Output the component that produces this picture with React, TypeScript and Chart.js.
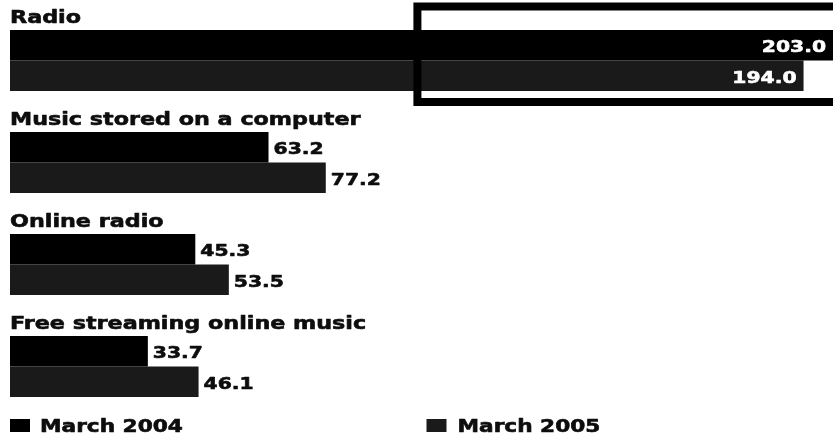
import { useEffect, useRef } from "react";
import { Chart, registerables } from "chart.js";

Chart.register(...registerables);

const categories = [
  "Radio",
  "Music stored on a computer",
  "Online radio",
  "Free streaming online music",
];
const seriesNames = ["March 2004", "March 2005"];
const march2004 = [203.0, 63.2, 45.3, 33.7];
const march2005 = [194.0, 77.2, 53.5, 46.1];
const seriesColors = ["#000000", "#1a1a1a"];
const axisMax = 201.2;
const highlightFrom = 99.6;

const FONT = '"DejaVu Sans", Verdana, sans-serif';
const STRETCH = 1.23;

function drawText(
  ctx: CanvasRenderingContext2D,
  text: string,
  x: number,
  y: number,
  align: CanvasTextAlign,
  font: string,
  color: string
) {
  ctx.save();
  ctx.font = font;
  ctx.fillStyle = color;
  ctx.strokeStyle = color;
  ctx.lineWidth = 0.6;
  ctx.lineJoin = "round";
  ctx.textAlign = align;
  ctx.textBaseline = "alphabetic";
  ctx.translate(x, y);
  ctx.scale(STRETCH, 1);
  ctx.fillText(text, 0, 0);
  ctx.strokeText(text, 0, 0);
  ctx.restore();
}

function textWidth(ctx: CanvasRenderingContext2D, text: string, font: string) {
  ctx.save();
  ctx.font = font;
  const w = ctx.measureText(text).width * STRETCH;
  ctx.restore();
  return w;
}

const overlayPlugin = {
  id: "overlay",
  afterDraw(chart: any) {
    const ctx: CanvasRenderingContext2D = chart.ctx;
    const area = chart.chartArea;
    const labelFont = `bold 18.1px ${FONT}`;
    const legendFont = `bold 17.6px ${FONT}`;
    const valueFont = `bold 16.5px ${FONT}`;

    // category labels above each pair
    const meta0 = chart.getDatasetMeta(0);
    meta0.data.forEach((bar: any, i: number) => {
      const top = bar.y - bar.height / 2;
      drawText(ctx, chart.data.labels[i], area.left, top - 7.5, "left", labelFont, "#0d0d0d");
    });

    // value labels
    chart.data.datasets.forEach((ds: any, di: number) => {
      const meta = chart.getDatasetMeta(di);
      meta.data.forEach((bar: any, i: number) => {
        const txt = Number(ds.data[i]).toFixed(1);
        const w = textWidth(ctx, txt, valueFont);
        const end = Math.min(bar.x, area.right);
        const baseline = bar.y + 7;
        if (bar.x + 5 + w > area.right) {
          drawText(ctx, txt, end - 7, baseline, "right", valueFont, "#ffffff");
        } else {
          drawText(ctx, txt, bar.x + 5, baseline, "left", valueFont, "#0d0d0d");
        }
      });
    });

    // highlight box around Radio bar ends
    const first0 = chart.getDatasetMeta(0).data[0];
    const first1 = chart.getDatasetMeta(1).data[0];
    const boxTop = first0.y - first0.height / 2 - 23.5;
    const boxBottom = first1.y + first1.height / 2 + 11;
    const boxLeft = chart.scales.x.getPixelForValue(highlightFrom);
    ctx.save();
    ctx.strokeStyle = "#000";
    ctx.lineWidth = 8;
    ctx.strokeRect(boxLeft, boxTop, chart.width + 20 - boxLeft, boxBottom - boxTop);
    ctx.restore();

    // legend
    const legendTop = area.bottom + 1.5;
    chart.data.datasets.forEach((ds: any, di: number) => {
      const x = area.left + (chart.width / 2) * di;
      ctx.save();
      ctx.fillStyle = ds.backgroundColor;
      ctx.fillRect(x, legendTop, 20, 13);
      ctx.restore();
      drawText(ctx, ds.label, x + 30 + di, legendTop + 13, "left", legendFont, "#0d0d0d");
    });
  },
};

export default function App() {
  const ref = useRef<HTMLCanvasElement | null>(null);

  useEffect(() => {
    if (!ref.current) return;
    const chart = new Chart(ref.current, {
      type: "bar",
      data: {
        labels: categories,
        datasets: [
          {
            label: seriesNames[0],
            data: march2004,
            backgroundColor: seriesColors[0],
            borderWidth: 0,
            categoryPercentage: 0.598,
            barPercentage: 1,
          },
          {
            label: seriesNames[1],
            data: march2005,
            backgroundColor: seriesColors[1],
            borderWidth: 0,
            categoryPercentage: 0.598,
            barPercentage: 1,
          },
        ],
      },
      options: {
        indexAxis: "y",
        animation: false,
        responsive: true,
        maintainAspectRatio: false,
        layout: { padding: { left: 10, right: 0, top: 9.5, bottom: 21.5 } },
        scales: {
          x: { display: false, min: 0, max: axisMax },
          y: { display: false },
        },
        plugins: {
          legend: { display: false },
          tooltip: { enabled: false },
        },
      },
      plugins: [overlayPlugin],
    });
    return () => chart.destroy();
  }, []);

  return (
    <div
      style={{
        position: "fixed",
        left: 0,
        top: 0,
        width: 833,
        height: 439,
        background: "#fff",
        overflow: "hidden",
      }}
    >
      <canvas ref={ref} />
    </div>
  );
}
